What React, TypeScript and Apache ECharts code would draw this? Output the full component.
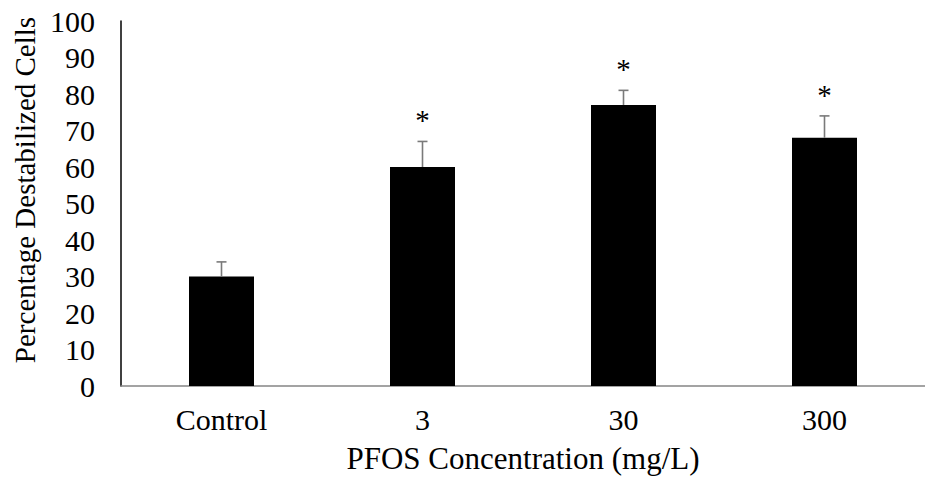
import React, { useEffect, useRef } from "react";
import * as echarts from "echarts";

const categories = ["Control", "3", "30", "300"];
const means = [30, 60, 77, 68];
const errorTops = [34, 67, 81, 74];
const significant = [false, true, true, true];
const yTicks = { min: 0, max: 100, interval: 10 };
const xTitle = "PFOS Concentration (mg/L)";
const yTitle = "Percentage Destabilized Cells";

const FONT = '"Liberation Serif", "Times New Roman", serif';

export default function App() {
  const ref = useRef<HTMLDivElement>(null);
  useEffect(() => {
    if (!ref.current) return;
    const chart = echarts.init(ref.current, undefined, { renderer: "svg" });
    const errData = categories.map((_, i) => [i, means[i], errorTops[i], significant[i] ? 1 : 0]);
    chart.setOption({
      animation: false,
      backgroundColor: "#fff",
      grid: { left: 121, right: -10, top: 21, bottom: 101, containLabel: false },
      graphic: [
        {
          type: "text",
          x: 25,
          y: 190,
          rotation: Math.PI / 2,
          style: {
            text: yTitle,
            fill: "#000",
            font: `29px ${FONT}`,
            textAlign: "center",
            textVerticalAlign: "middle",
          },
        },
      ],
      xAxis: {
        type: "category",
        data: categories,
        axisLine: { show: true, lineStyle: { color: "#858585", width: 1.5 } },
        axisTick: { show: false },
        axisLabel: { color: "#000", fontFamily: FONT, fontSize: 30, margin: 18 },
        name: xTitle,
        nameLocation: "middle",
        nameGap: 57,
        nameTextStyle: { color: "#000", fontFamily: FONT, fontSize: 31 },
      },
      yAxis: {
        type: "value",
        min: yTicks.min,
        max: yTicks.max,
        interval: yTicks.interval,
        splitLine: { show: false },
        axisLine: { show: true, lineStyle: { color: "#000", width: 1.5 } },
        axisTick: { show: false },
        axisLabel: { color: "#000", fontFamily: FONT, fontSize: 30, margin: 26 },
      },
      series: [
        {
          type: "bar",
          data: means,
          barWidth: 65,
          itemStyle: { color: "#000" },
        },
        {
          type: "custom",
          data: errData,
          z: 5,
          renderItem: (params: any, api: any) => {
            const idx = api.value(0);
            const base = api.coord([idx, api.value(1)]);
            const top = api.coord([idx, api.value(2)]);
            const sig = api.value(3);
            const cap = 5;
            const children: any[] = [
              {
                type: "line",
                shape: { x1: base[0], y1: base[1], x2: top[0], y2: top[1] },
                style: { stroke: "#7a7a7a", lineWidth: 1.6 },
              },
              {
                type: "line",
                shape: { x1: top[0] - cap, y1: top[1], x2: top[0] + cap, y2: top[1] },
                style: { stroke: "#7a7a7a", lineWidth: 1.6 },
              },
            ];
            if (sig) {
              children.push({
                type: "text",
                x: top[0],
                y: top[1] - 21,
                style: {
                  text: "*",
                  fill: "#000",
                  font: `29px ${FONT}`,
                  textAlign: "center",
                  textVerticalAlign: "middle",
                },
              });
            }
            return { type: "group", children };
          },
        },
      ],
    });
    return () => chart.dispose();
  }, []);
  return (
    <div
      ref={ref}
      style={{ position: "fixed", left: 0, top: 0, width: 925, height: 487, background: "#fff" }}
    />
  );
}
